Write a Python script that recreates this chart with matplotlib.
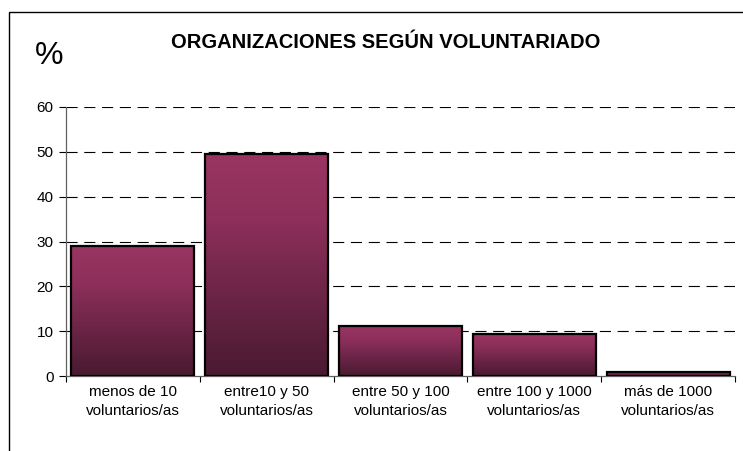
import numpy as np
import matplotlib
matplotlib.use("Agg")
import matplotlib.pyplot as plt
from matplotlib.colors import LinearSegmentedColormap
from matplotlib.patches import Rectangle

plt.rcParams["font.family"] = ["Liberation Sans", "DejaVu Sans"]

# data
categories = ["menos de 10\nvoluntarios/as", "entre10 y 50\nvoluntarios/as",
              "entre 50 y 100\nvoluntarios/as", "entre 100 y 1000\nvoluntarios/as",
              "más de 1000\nvoluntarios/as"]
values = [29.0, 49.5, 11.2, 9.4, 0.9]
yticks = [0, 10, 20, 30, 40, 50, 60]

fig = plt.figure(figsize=(7.43, 4.51), dpi=100)
W, H = 743, 451
ax = fig.add_axes([66 / W, 1 - 376 / H, (735 - 66) / W, (376 - 107) / H])

# outer chart border (runs off right/bottom edge)
fig.patches.append(Rectangle((9 / W, -0.05), 1.1, 1 - 12 / H + 0.05,
                             transform=fig.transFigure, fill=False,
                             edgecolor="black", linewidth=1.0))

x = np.arange(len(categories))
bars = ax.bar(x, values, width=0.92, color="none", edgecolor="black",
              linewidth=1.6, zorder=3)

# vertical gradient inside each bar
cmap = LinearSegmentedColormap.from_list(
    "plum", [(0.0, "#4a1a30"), (0.35, "#6a2446"), (0.7, "#8c2f5a"), (1.0, "#9a3562")])
grad = np.linspace(0, 1, 256).reshape(-1, 1)
for b in bars:
    x0, w, h = b.get_x(), b.get_width(), b.get_height()
    im = ax.imshow(grad, cmap=cmap, aspect="auto", origin="lower",
                   extent=[x0, x0 + w, 0, h], zorder=2)
    im.set_clip_path(b)

ax.set_xlim(-0.5, len(categories) - 0.5)
ax.set_ylim(0, 60)
ax.set_yticks(yticks)
ax.set_yticklabels([str(t) for t in yticks], fontsize=11)
ax.tick_params(axis="y", direction="out", length=5, width=0.8, pad=4)

# x ticks at category boundaries, labels centered under bars
ax.set_xticks(np.arange(len(categories) + 1) - 0.5)
ax.set_xticklabels([])
ax.tick_params(axis="x", direction="out", length=4, width=0.8)
for i, lab in enumerate(categories):
    ax.text(i, -1.9, lab, ha="center", va="top", fontsize=11,
            linespacing=1.5, transform=ax.transData)

for t in yticks[1:]:
    ax.axhline(t, color="black", linestyle=(0, (10, 6)), linewidth=0.8, zorder=1)

for s in ["top", "right"]:
    ax.spines[s].set_visible(False)
ax.spines["left"].set_color("#606060")
ax.spines["bottom"].set_color("#606060")
ax.spines["left"].set_linewidth(0.9)
ax.spines["bottom"].set_linewidth(0.9)

fig.text(386 / W, 1 - 42 / H, "ORGANIZACIONES SEGÚN VOLUNTARIADO",
         ha="center", va="center", fontsize=14.5, fontweight="bold")
fig.text(49 / W, 1 - 56 / H, "%", ha="center", va="center", fontsize=23)

fig.savefig("out.png", dpi=100)
